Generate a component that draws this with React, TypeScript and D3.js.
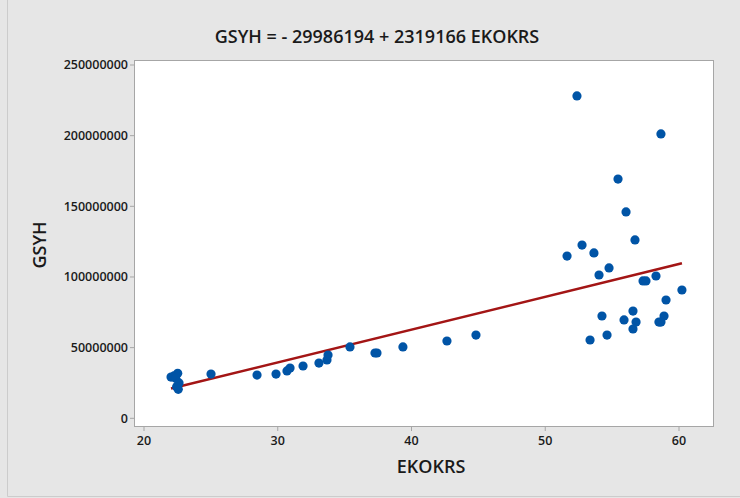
import React from 'react';
import * as d3 from 'd3';

// EKOKRS (x) and GSYH (y)
const ekokrs = [
  22.02, 22.24, 22.52, 22.37, 22.62, 22.44, 22.56,
  25.01, 28.45, 29.87, 30.69, 30.92, 31.89, 33.08, 33.68, 33.76, 35.4,
  37.27, 37.42, 39.36, 42.65, 44.82,
  52.37, 58.65, 55.44, 56.04, 56.71, 52.75, 51.63, 53.64, 54.77, 54.02,
  57.31, 57.53, 58.28, 60.22, 59.03, 54.24, 56.56, 55.89, 56.79, 56.56,
  58.88, 58.5, 58.65, 54.62, 53.35,
];
const gsyh = [
  29.2e6, 30.0e6, 31.8e6, 28.3e6, 25.0e6, 22.4e6, 20.5e6,
  31.3e6, 30.6e6, 31.3e6, 33.5e6, 35.6e6, 37.0e6, 39.1e6, 41.3e6, 44.8e6, 50.5e6,
  46.2e6, 46.2e6, 50.5e6, 54.7e6, 58.9e6,
  228.1e6, 201.2e6, 169.3e6, 146.0e6, 126.2e6, 122.6e6, 114.8e6, 117.0e6, 106.4e6, 101.4e6,
  97.2e6, 97.2e6, 100.7e6, 90.8e6, 83.7e6, 72.4e6, 75.9e6, 69.6e6, 68.1e6, 63.2e6,
  72.4e6, 68.1e6, 68.1e6, 58.9e6, 55.4e6,
];
const intercept = -29986194;
const slope = 2319166;
const xTicks = [20, 30, 40, 50, 60];
const yTicks = [0, 50000000, 100000000, 150000000, 200000000, 250000000];

const W = 740;
const H = 498;
const plot = { left: 134, top: 60, right: 713, bottom: 426 };
const font = '"Open Sans", "Noto Sans", sans-serif';

export default function App() {
  const x = d3.scaleLinear().domain([20, 60]).range([144, 679]);
  const y = d3.scaleLinear().domain([0, 250000000]).range([418.3, 65]);

  const xs = [...ekokrs].sort((a, b) => a - b);
  const fitLine = d3
    .line<number>()
    .x((d) => x(d))
    .y((d) => y(intercept + slope * d));

  return (
    <svg
      width={W}
      height={H}
      style={{ position: 'fixed', left: 0, top: 0, fontFamily: font }}
    >
      <rect x={0} y={0} width={W} height={H} fill="#e6e6e6" />
      <line x1={7.5} y1={0} x2={7.5} y2={496.5} stroke="#cccccc" />
      <line x1={7.5} y1={496.5} x2={W} y2={496.5} stroke="#cccccc" />
      <rect
        x={plot.left + 0.5}
        y={plot.top + 0.5}
        width={plot.right - plot.left}
        height={plot.bottom - plot.top}
        fill="#ffffff"
        stroke="#a6a6a6"
      />
      <text x={377} y={43} textAnchor="middle" fontSize={18} fontWeight={600} fill="#1a1a1a">
        GSYH = - 29986194 + 2319166 EKOKRS
      </text>

      {yTicks.map((t) => (
        <g key={t}>
          <line x1={plot.left - 4} x2={plot.left} y1={y(t)} y2={y(t)} stroke="#a6a6a6" />
          <text
            x={plot.left - 6}
            y={y(t)}
            dy="0.35em"
            textAnchor="end"
            fontSize={12.5}
            fontWeight={600}
            fill="#1a1a1a"
          >
            {t}
          </text>
        </g>
      ))}
      {xTicks.map((t) => (
        <g key={t}>
          <line x1={x(t)} x2={x(t)} y1={plot.bottom + 0.5} y2={plot.bottom + 5} stroke="#a6a6a6" />
          <text x={x(t)} y={445} textAnchor="middle" fontSize={12.5} fontWeight={600} fill="#1a1a1a">
            {t}
          </text>
        </g>
      ))}

      <text x={431} y={473} textAnchor="middle" fontSize={18} fontWeight={600} fill="#1a1a1a">
        EKOKRS
      </text>
      <text
        transform="translate(46,245) rotate(-90)"
        textAnchor="middle"
        fontSize={18}
        fontWeight={600}
        fill="#1a1a1a"
      >
        GSYH
      </text>

      <path d={fitLine([xs[0], xs[xs.length - 1]]) || ''} fill="none" stroke="#a31515" strokeWidth={2.5} />

      {ekokrs.map((v, i) => (
        <circle key={i} cx={x(v)} cy={y(gsyh[i])} r={4.6} fill="#0054a6" />
      ))}
    </svg>
  );
}
